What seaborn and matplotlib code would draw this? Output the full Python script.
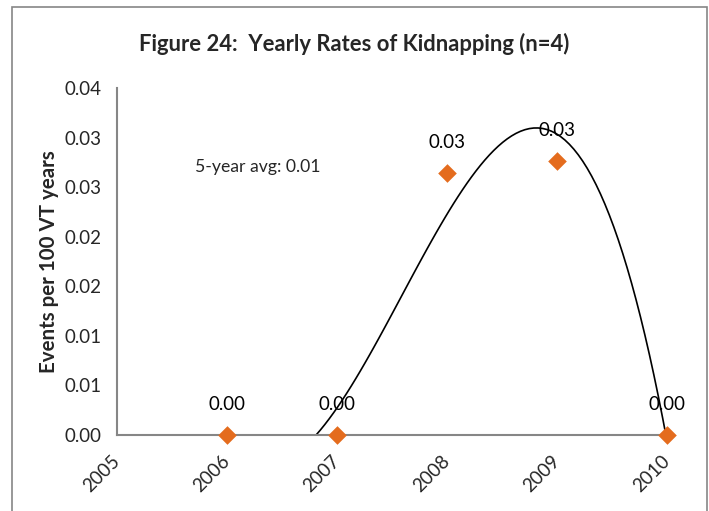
"""
Figure 24: yearly rates of kidnapping, Excel-style scatter with cubic trendline.
"""
import numpy as np
import pandas as pd
import matplotlib
matplotlib.use("Agg")
import matplotlib.pyplot as plt
import seaborn as sns
from matplotlib.patches import Rectangle

sns.set_theme(style="white")
plt.rcParams["font.family"] = ["Lato", "DejaVu Sans"]

# %% data
YEARS = [2006, 2007, 2008, 2009, 2010]
RATES = [0.0, 0.0, 0.0264, 0.0276, 0.0]
POINT_LABELS = ["0.00", "0.00", "0.03", "0.03", "0.00"]
X_TICKS = [2005, 2006, 2007, 2008, 2009, 2010]
Y_TICKS = [0.0, 0.005, 0.01, 0.015, 0.02, 0.025, 0.03, 0.035]
Y_TICK_LABELS = ["0.00", "0.01", "0.01", "0.02", "0.02", "0.03", "0.03", "0.04"]
AVG_TEXT = "5-year avg: 0.01"

df = pd.DataFrame({"year": YEARS, "rate": RATES})

ORANGE = "#E46C1E"
GREY = "#868686"

fig = plt.figure(figsize=(7.09, 5.11), dpi=100)
ax = fig.add_axes([0.165, 0.1487, 0.776, 0.679])

# cubic trendline (Excel "polynomial, order 3")
sns.regplot(data=df, x="year", y="rate", order=3, ci=None, scatter=False,
            truncate=True, color="black", line_kws={"lw": 1.2}, ax=ax)
sns.scatterplot(data=df, x="year", y="rate", marker="D", s=90, color=ORANGE,
                edgecolor=ORANGE, linewidth=0, zorder=5, clip_on=False, ax=ax)

for x, y, lab in zip(YEARS, RATES, POINT_LABELS):
    ax.annotate(lab, (x, y), xytext=(0, 22), textcoords="offset points",
                ha="center", va="center", fontsize=13.5, color="black", zorder=6)

ax.text(2005.71, 0.0270, AVG_TEXT, ha="left", va="center", fontsize=12.7)

ax.set_xlim(2005, 2010)
ax.set_ylim(0, 0.035)
ax.set_xticks(X_TICKS)
ax.set_xticklabels([str(v) for v in X_TICKS], rotation=45, ha="right",
                   va="center", rotation_mode="anchor", fontsize=13.5)
ax.set_yticks(Y_TICKS)
ax.set_yticklabels(Y_TICK_LABELS, fontsize=13.5)
ax.tick_params(axis="both", direction="out", length=5, width=1.3, color=GREY,
               pad=6)
ax.tick_params(axis="x", pad=12)

ax.set_xlabel("")
ax.set_ylabel("Events per 100 VT years", fontsize=14.8, fontweight="bold")
ax.yaxis.set_label_coords(-0.106, 0.5)

for side in ["top", "right"]:
    ax.spines[side].set_visible(False)
for side in ["left", "bottom"]:
    ax.spines[side].set_color(GREY)
    ax.spines[side].set_linewidth(1.5)

fig.suptitle("Figure 24:  Yearly Rates of Kidnapping (n=4)", x=0.5, y=0.935,
             fontsize=15.8, fontweight="bold")

# chart-area frame (open at the bottom, as in the reference)
fig.add_artist(Rectangle((12 / 709, -0.05), (707 - 12) / 709, 1.05 - 7 / 511,
                         transform=fig.transFigure, fill=False,
                         edgecolor=GREY, lw=1.2))

fig.savefig("out.png", dpi=100)
print("saved out.png")
